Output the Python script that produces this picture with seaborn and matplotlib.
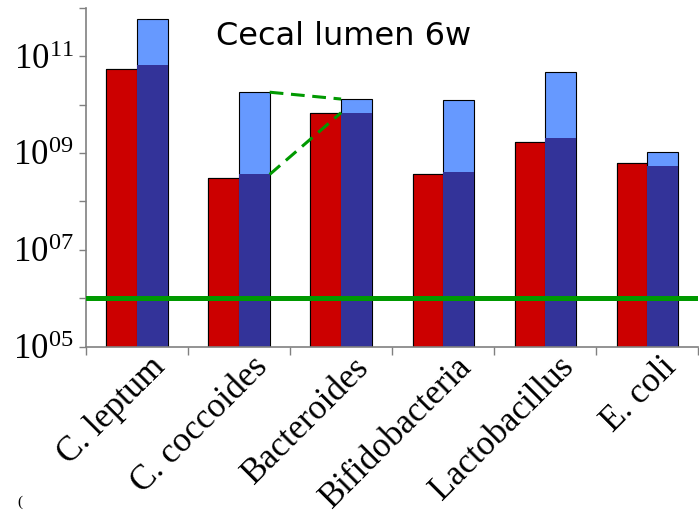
import matplotlib
matplotlib.use('Agg')
import pandas as pd
import matplotlib.pyplot as plt
import seaborn as sns
from matplotlib.ticker import NullLocator
from matplotlib.transforms import ScaledTranslation

# Values (copies per gram, log axis)
categories = ['C. leptum', 'C. coccoides', 'Bacteroides', 'Bifidobacteria', 'Lactobacillus', 'E. coli']
control = [5.5e10, 3.0e8, 6.8e9, 3.7e8, 1.66e9, 6.2e8]
treated_low = [6.5e10, 3.6e8, 6.8e9, 4.1e8, 2.0e9, 5.5e8]
treated_high = [6.0e11, 1.8e10, 1.3e10, 1.23e10, 4.6e10, 1.07e9]
detection_limit = 1e6
ytick_exp = ['05', '', '07', '', '09', '', '11', '']

RED = '#CC0000'
DARK = '#333399'
LIGHT = '#6699FF'
GREEN = '#009900'
AXIS_GREY = '#808080'

sns.set_style('white')
plt.rcParams['font.family'] = ['Liberation Serif', 'DejaVu Serif']
plt.rcParams['mathtext.fontset'] = 'custom'
plt.rcParams['mathtext.rm'] = 'Liberation Serif'
plt.rcParams['mathtext.it'] = 'Liberation Serif:italic'
plt.rcParams['text.color'] = 'black'
plt.rcParams['xtick.color'] = 'black'
plt.rcParams['ytick.color'] = 'black'

fig = plt.figure(figsize=(6.99, 5.18), dpi=100)
ax = fig.add_axes([0.123, 0.331, 0.876, 0.654])
ax.set_yscale('log')

high_df = pd.DataFrame({'taxon': categories * 2,
                        'group': ['ctrl'] * 6 + ['trt'] * 6,
                        'count': control + treated_high})
low_df = pd.DataFrame({'taxon': categories * 2,
                       'group': ['ctrl'] * 6 + ['trt'] * 6,
                       'count': control + treated_low})

# upper (light) part of the treated range first, then the lower part on top
sns.barplot(data=high_df, x='taxon', y='count', hue='group', order=categories,
            palette={'ctrl': RED, 'trt': LIGHT}, saturation=1, width=0.6, gap=0,
            edgecolor='black', linewidth=0.8, errorbar=None, legend=False, ax=ax)
n_first = len(ax.patches)
sns.barplot(data=low_df, x='taxon', y='count', hue='group', order=categories,
            palette={'ctrl': RED, 'trt': DARK}, saturation=1, width=0.6, gap=0,
            edgecolor='black', linewidth=0.8, errorbar=None, legend=False, ax=ax)
for p in ax.patches[n_first:]:
    if matplotlib.colors.to_hex(p.get_facecolor()).lower() == DARK.lower():
        p.set_linewidth(0)

# detection limit and the dashed guide lines
ax.axhline(detection_limit, color=GREEN, lw=3.6, zorder=5)
ax.plot([1.3, 2.0], [treated_high[1], treated_high[2]], color=GREEN, lw=2.2,
        ls=(0, (4.5, 2.5)), zorder=5)
ax.plot([1.3, 2.0], [treated_low[1], treated_low[2]], color=GREEN, lw=2.2,
        ls=(0, (4.5, 2.5)), zorder=5)

ax.set_ylim(1e5, 1e12)
ax.set_xlim(-0.5, 5.5)
ax.set_xlabel('')
ax.set_ylabel('')

# y axis
yt = [10.0 ** k for k in range(5, 13)]
ax.set_yticks(yt)
ax.set_yticklabels([rf'$\mathrm{{10^{{{s}}}}}$' if s else '' for s in ytick_exp])
ax.yaxis.set_minor_locator(NullLocator())
ax.tick_params(axis='y', left=True, direction='out', length=5, width=1, color=AXIS_GREY,
               pad=4, labelsize=25)

# x axis: labels at centres, tick marks at boundaries
ax.set_xticks(range(len(categories)))
ax.set_xticklabels(categories)
ax.set_xticks([i - 0.5 for i in range(len(categories) + 1)], minor=True)
ax.tick_params(axis='x', which='major', bottom=True, length=0, pad=0, labelsize=25)
ax.tick_params(axis='x', which='minor', bottom=True, direction='out', length=6, width=1,
               color=AXIS_GREY)
shift = ScaledTranslation(0.12, -0.04, fig.dpi_scale_trans)
for lbl in ax.get_xticklabels():
    lbl.set_rotation(45)
    lbl.set_ha('right')
    lbl.set_va('top')
    lbl.set_rotation_mode('anchor')
    lbl.set_transform(lbl.get_transform() + shift)

for side in ['top', 'right']:
    ax.spines[side].set_visible(False)
for side in ['left', 'bottom']:
    ax.spines[side].set_color(AXIS_GREY)
    ax.spines[side].set_linewidth(1.2)

fig.text(0.491, 0.929, 'Cecal lumen 6w', ha='center', va='center',
         fontsize=23, family='DejaVu Sans')
fig.text(20 / 699, 1 - 502 / 518, '(', ha='center', va='center', fontsize=11)

fig.savefig('out.png', dpi=100)
